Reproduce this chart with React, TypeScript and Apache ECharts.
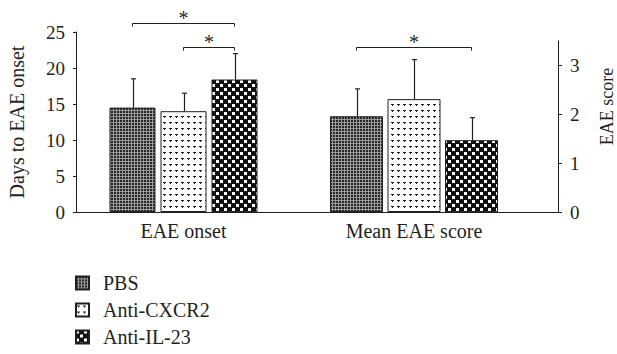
import React, { useEffect, useRef } from 'react';
import * as echarts from 'echarts';

// ---- data ----
const groups = ['PBS', 'Anti-CXCR2', 'Anti-IL-23'];
const onsetCategory = ['EAE onset'];
const scoreCategory = ['Mean EAE score'];
const onsetMean = [14.5, 14.0, 18.4];
const onsetErrTop = [18.5, 16.5, 22.0];
const scoreMean = [1.96, 2.31, 1.47];
const scoreErrTop = [2.52, 3.12, 1.93];
// significance brackets: [fromGroup, toGroup, level]
const onsetBrackets = [[0, 2, 26.3], [1, 2, 22.9]];
const scoreBrackets = [[0, 2, 3.37]];
const onsetAxisName = 'Days to EAE onset';
const scoreAxisName = 'EAE score';

// ---- style / layout ----
const FONT = '"Liberation Serif", "Times New Roman", serif';
const INK = '#231f20';
const ONSET_BAR_W = 46;
const ONSET_GAP = 5;
const SCORE_BAR_W = 53;
const SCORE_GAP = 4.5;

function makePattern(kind: number) {
  const c = document.createElement('canvas');
  const ctx = c.getContext('2d')!;
  if (kind === 0) {
    c.width = 3; c.height = 3;
    ctx.fillStyle = '#262626'; ctx.fillRect(0, 0, 3, 3);
    ctx.fillStyle = '#9a9a9a';
    ctx.fillRect(2, 0, 1, 3);
    ctx.fillRect(0, 2, 3, 1);
  } else if (kind === 1) {
    c.width = 6; c.height = 6;
    ctx.fillStyle = '#ffffff'; ctx.fillRect(0, 0, 6, 6);
    ctx.fillStyle = INK;
    ctx.fillRect(1, 2, 3, 1); ctx.fillRect(2, 3, 1, 1);
  } else {
    c.width = 8; c.height = 8;
    ctx.fillStyle = '#111111'; ctx.fillRect(0, 0, 8, 8);
    ctx.fillStyle = '#ffffff';
    ctx.fillRect(0, 0, 3, 3);
    ctx.fillRect(4, 4, 3, 3);
  }
  return { image: c, repeat: 'repeat' } as any;
}

function errRender(barW: number, gap: number) {
  return (params: any, api: any) => {
    const i = api.value(3);
    const base = api.coord([api.value(0), api.value(1)]);
    const top = api.coord([api.value(0), api.value(2)]);
    const x = Math.round(base[0] + (i - 1) * (barW + gap)) + 0.5;
    const st = { stroke: INK, lineWidth: 1.2 };
    return {
      type: 'group',
      children: [
        { type: 'line', shape: { x1: x, y1: base[1], x2: x, y2: top[1] }, style: st },
        { type: 'line', shape: { x1: x - 2.5, y1: top[1], x2: x + 2.5, y2: top[1] }, style: st },
      ],
    };
  };
}

function bracketRender(barW: number, gap: number) {
  return (params: any, api: any) => {
    const from = api.value(1);
    const to = api.value(2);
    const base = api.coord([api.value(0), api.value(3)]);
    const x1 = base[0] + (from - 1) * (barW + gap);
    const x2 = base[0] + (to - 1) * (barW + gap);
    const y = Math.round(base[1]) + 0.5;
    return {
      type: 'group',
      children: [
        {
          type: 'polyline',
          shape: { points: [[x1, y + 3], [x1, y], [x2, y], [x2, y + 3]] },
          style: { stroke: INK, lineWidth: 1, fill: null },
        },
        {
          type: 'text',
          x: (x1 + x2) / 2,
          y: y + 4,
          style: { text: '*', fontSize: 20, fontFamily: FONT, fill: INK, align: 'center', verticalAlign: 'bottom' },
        },
      ],
    };
  };
}

export default function App() {
  const ref = useRef<HTMLDivElement>(null);
  useEffect(() => {
    const chart = echarts.init(ref.current!, null, { renderer: 'svg' });
    const patterns = groups.map((_, i) => makePattern(i));
    const barStyle = (i: number) => ({ color: patterns[i], borderColor: INK, borderWidth: 1 });

    const series: any[] = [];
    groups.forEach((g, i) => {
      series.push({
        type: 'bar', name: g, xAxisIndex: 0, yAxisIndex: 0,
        data: [onsetMean[i]], barWidth: ONSET_BAR_W, barGap: (ONSET_GAP / ONSET_BAR_W * 100).toFixed(1) + '%',
        itemStyle: barStyle(i), emphasis: { disabled: true },
      });
    });
    groups.forEach((g, i) => {
      series.push({
        type: 'bar', name: g, xAxisIndex: 1, yAxisIndex: 1,
        data: [scoreMean[i]], barWidth: SCORE_BAR_W, barGap: (SCORE_GAP / SCORE_BAR_W * 100).toFixed(1) + '%',
        itemStyle: barStyle(i), emphasis: { disabled: true },
      });
    });
    series.push({
      type: 'custom', name: 'onset-err', xAxisIndex: 0, yAxisIndex: 0, z: 5, clip: false,
      renderItem: errRender(ONSET_BAR_W, ONSET_GAP),
      data: onsetMean.map((v, i) => [0, v, onsetErrTop[i], i]),
    });
    series.push({
      type: 'custom', name: 'score-err', xAxisIndex: 1, yAxisIndex: 1, z: 5, clip: false,
      renderItem: errRender(SCORE_BAR_W, SCORE_GAP),
      data: scoreMean.map((v, i) => [0, v, scoreErrTop[i], i]),
    });
    series.push({
      type: 'custom', name: 'onset-sig', xAxisIndex: 0, yAxisIndex: 0, z: 5, clip: false,
      renderItem: bracketRender(ONSET_BAR_W, ONSET_GAP),
      data: onsetBrackets.map((b) => [0, b[0], b[1], b[2]]),
    });
    series.push({
      type: 'custom', name: 'score-sig', xAxisIndex: 1, yAxisIndex: 1, z: 5, clip: false,
      renderItem: bracketRender(SCORE_BAR_W, SCORE_GAP),
      data: scoreBrackets.map((b) => [0, b[0], b[1], b[2]]),
    });

    const catAxis = (gridIndex: number, data: string[]) => ({
      type: 'category', gridIndex, data,
      axisLine: { lineStyle: { color: INK, width: 1 } },
      axisTick: { show: false },
      axisLabel: { fontSize: 20, fontFamily: FONT, color: INK, margin: 9 },
    });

    chart.setOption({
      animation: false,
      textStyle: { fontFamily: FONT, color: INK },
      grid: [
        { left: 76, top: 32, width: 215, height: 180 },
        { left: 270, top: 41, width: 289, height: 171 },
      ],
      xAxis: [catAxis(0, onsetCategory), catAxis(1, scoreCategory)],
      yAxis: [
        {
          type: 'value', gridIndex: 0, min: 0, max: 25, interval: 5,
          name: onsetAxisName, nameLocation: 'middle', nameGap: 49, nameRotate: 90,
          nameTextStyle: { fontSize: 20, fontFamily: FONT, color: INK },
          axisLine: { show: true, lineStyle: { color: INK, width: 1 } },
          axisTick: { show: true, length: 3, lineStyle: { color: INK } },
          axisLabel: { fontSize: 19, fontFamily: FONT, color: INK, margin: 11 },
          splitLine: { show: false },
        },
        {
          type: 'value', gridIndex: 1, position: 'right', min: 0, max: 3.5, interval: 1,
          name: scoreAxisName, nameLocation: 'middle', nameGap: 40, nameRotate: 90,
          nameTextStyle: { fontSize: 18, fontFamily: FONT, color: INK, padding: [0, 0, 0, 40] },
          axisLine: { show: true, lineStyle: { color: INK, width: 1 } },
          axisTick: { show: true, length: 4, lineStyle: { color: INK } },
          axisLabel: { fontSize: 19, fontFamily: FONT, color: INK, margin: 12, showMaxLabel: false },
          splitLine: { show: false },
        },
      ],
      legend: {
        data: groups, orient: 'vertical', left: 75, top: 273, padding: 0,
        itemWidth: 13, itemHeight: 13, itemGap: 7, icon: 'rect',
        textStyle: { fontSize: 20, fontFamily: FONT, color: INK, padding: [0, 0, 0, 9] },
        selectedMode: false,
      },
      series,
    });
    return () => chart.dispose();
  }, []);
  return (
    <div
      ref={ref}
      style={{ position: 'fixed', left: 0, top: 0, width: 617, height: 354, background: '#fff' }}
    />
  );
}
